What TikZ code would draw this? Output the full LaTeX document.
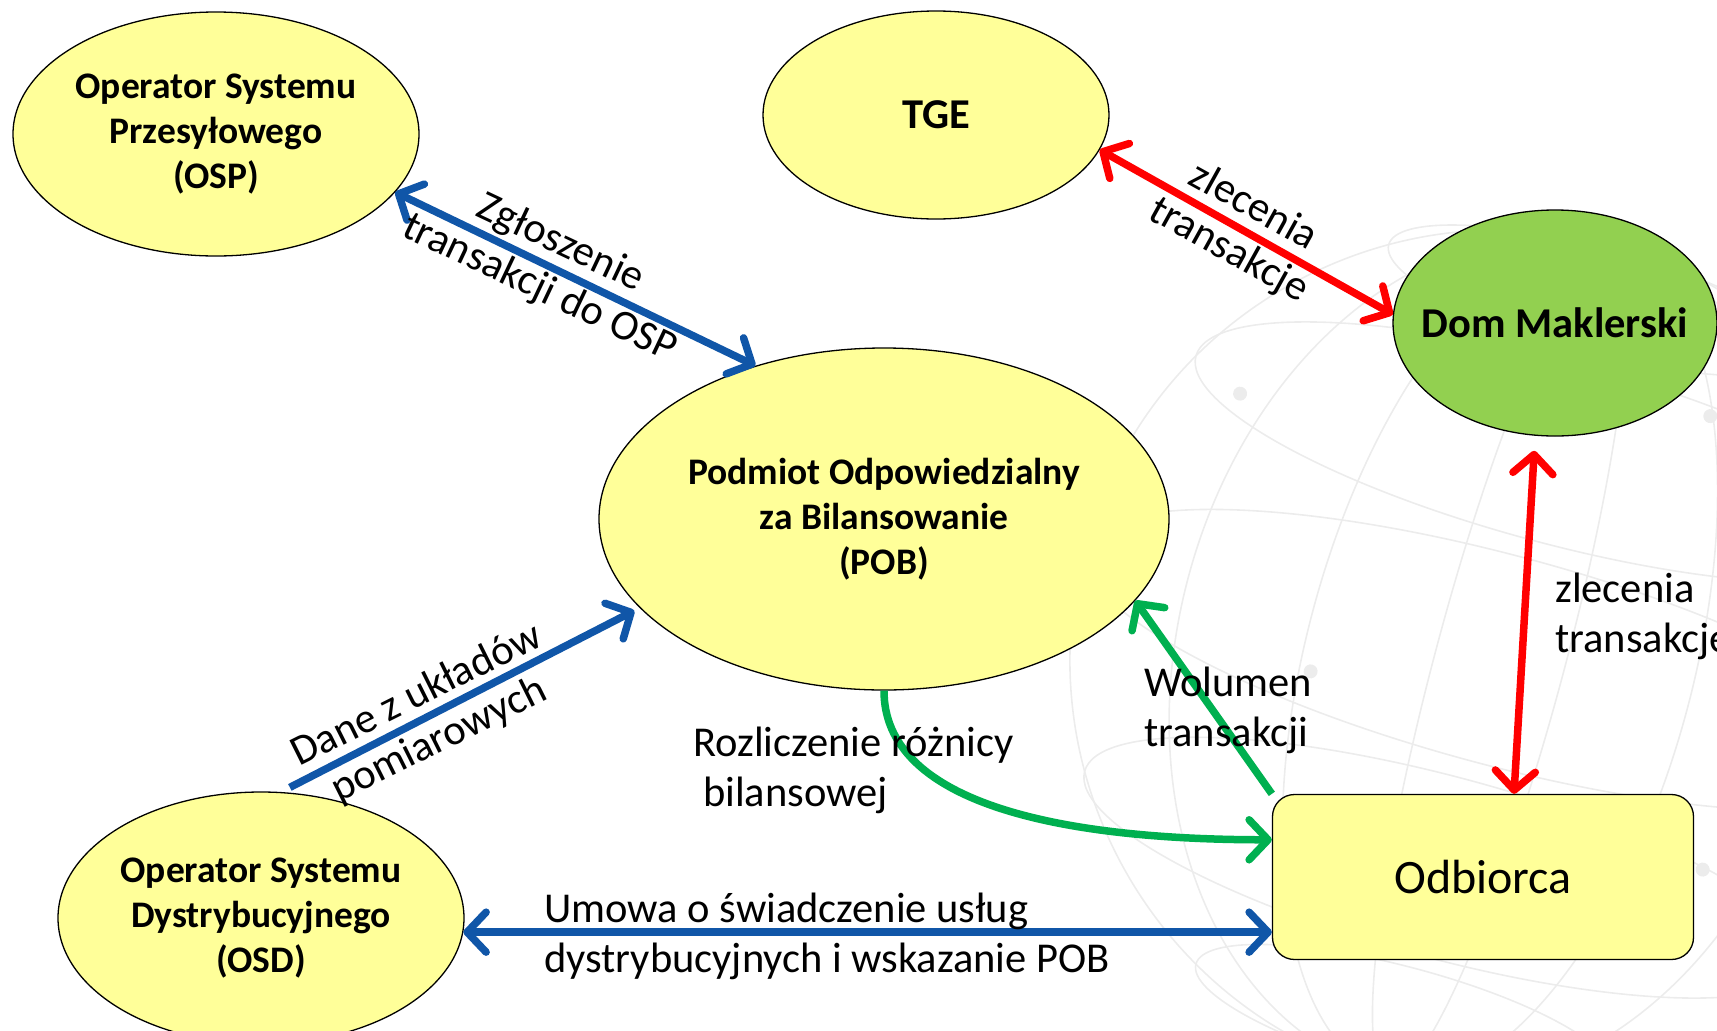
\documentclass[tikz,border=0pt]{standalone}
\usepackage{fontspec}
\setmainfont{Carlito}
\usetikzlibrary{shapes.geometric,arrows.meta}
\definecolor{bubblefill}{RGB}{255,255,153}
\definecolor{dmgreen}{RGB}{146,208,80}
\definecolor{flowblue}{RGB}{16,86,168}
\definecolor{flowred}{RGB}{255,0,0}
\definecolor{flowgreen}{RGB}{0,176,80}
\definecolor{globegray}{RGB}{236,236,236}

\begin{document}
\begin{tikzpicture}[x=1pt,y=-1pt,
    bubble/.style={ellipse,draw=black,line width=1.3pt,fill=bubblefill,inner sep=0pt,align=center,
        font=\fontsize{37.5}{45}\selectfont\bfseries},
    bigbold/.style={font=\fontsize{42.5}{50}\selectfont\bfseries},
    flow/.style={line width=7.5pt,>={Straight Barb[length=19pt,width=40pt,round]}},
    lbl/.style={inner sep=0pt,font=\fontsize{42.5}{50}\selectfont},
    globe/.style={draw=globegray,line width=1.6pt},
  ]
    \useasboundingbox (0,0) rectangle (1717,1031);
    \begin{scope}[shift={(1500,660)},rotate=-15]
        \foreach \m in {0.15,0.45,0.75,1}
            \draw [globe] (0,0) ellipse [x radius=\m*430,y radius=430];
        \foreach \l in {-60,-30,0,30,60}
            \draw [globe] (0,{430*sin(\l)}) ellipse [x radius={430*cos(\l)},y radius={105*cos(\l)}];
        \foreach \p in {(-320,-190),(-180,60),(140,-290),(250,150),(-80,320)}
            \fill [globegray] \p circle (7);
    \end{scope}

    \node [bubble,minimum width=406,minimum height=244] (osp) at (216,134) {Operator Systemu\\Przesyłowego\\(OSP)};
    \node [bubble,bigbold,minimum width=346,minimum height=208] (tge) at (936,115) {TGE};
    \node [bubble,bigbold,fill=dmgreen,inner xsep=-40pt,minimum width=324,minimum height=226] (dm) at (1555,323) {Dom Maklerski};
    \node [bubble,minimum width=570,minimum height=342] (pob) at (884,519) {Podmiot Odpowiedzialny\\za Bilansowanie\\(POB)};
    \node [bubble,minimum width=406,minimum height=252] (osd) at (261,918) {Operator Systemu\\Dystrybucyjnego\\(OSD)};
    \node [draw=black,line width=1.3pt,fill=bubblefill,rounded corners=22pt,minimum width=421,minimum height=165,
        font=\fontsize{48}{55}\selectfont] (odb) at (1483,877) {Odbiorca};

    \draw [flow,flowblue,<->] (osp.-18) -- (pob.130);
    \draw [flow,flowred,<->] (tge.-12) -- (dm.177);
    \draw [flow,flowblue,->,shorten <=10pt,shorten >=6pt] (osd.81) -- (pob.200);
    \draw [flow,flowgreen,->] (pob.south) .. controls +(0,110) and +(-220,0) .. (odb.170);
    \draw [flow,flowgreen,->] (odb.north west) -- (pob.-18);
    \draw [flow,flowred,<->,shorten <=15pt] (dm.-100) -- ([xshift=31pt]odb.north);
    \draw [flow,flowblue,<->] (osd.-4) -- (odb.west |- osd.-4);

    \node [lbl,rotate=-25.3,align=center] (zgl) at (550,266) {Zgłoszenie\\transakcji do OSP};
    \node [lbl,rotate=-29,align=center] (zlec1) at (1241,229) {zlecenia\\transakcje};
    \node [lbl,rotate=26.5,align=center] (dane) at (428,718) {Dane z układów\\pomiarowych};
    \node [lbl,align=left,anchor=west] (rozl) at (693,770) {Rozliczenie różnicy\\\hspace*{10pt}bilansowej};
    \node [lbl,align=left,anchor=west] (wol) at (1144,710) {Wolumen\\transakcji};
    \node [lbl,align=left,anchor=west] (zlec2) at (1555,616) {zlecenia\\transakcje};
    \node [lbl,align=left,anchor=west] (umowa) at (544,936) {Umowa o świadczenie usług\\dystrybucyjnych i wskazanie POB};
\end{tikzpicture}
\end{document}
